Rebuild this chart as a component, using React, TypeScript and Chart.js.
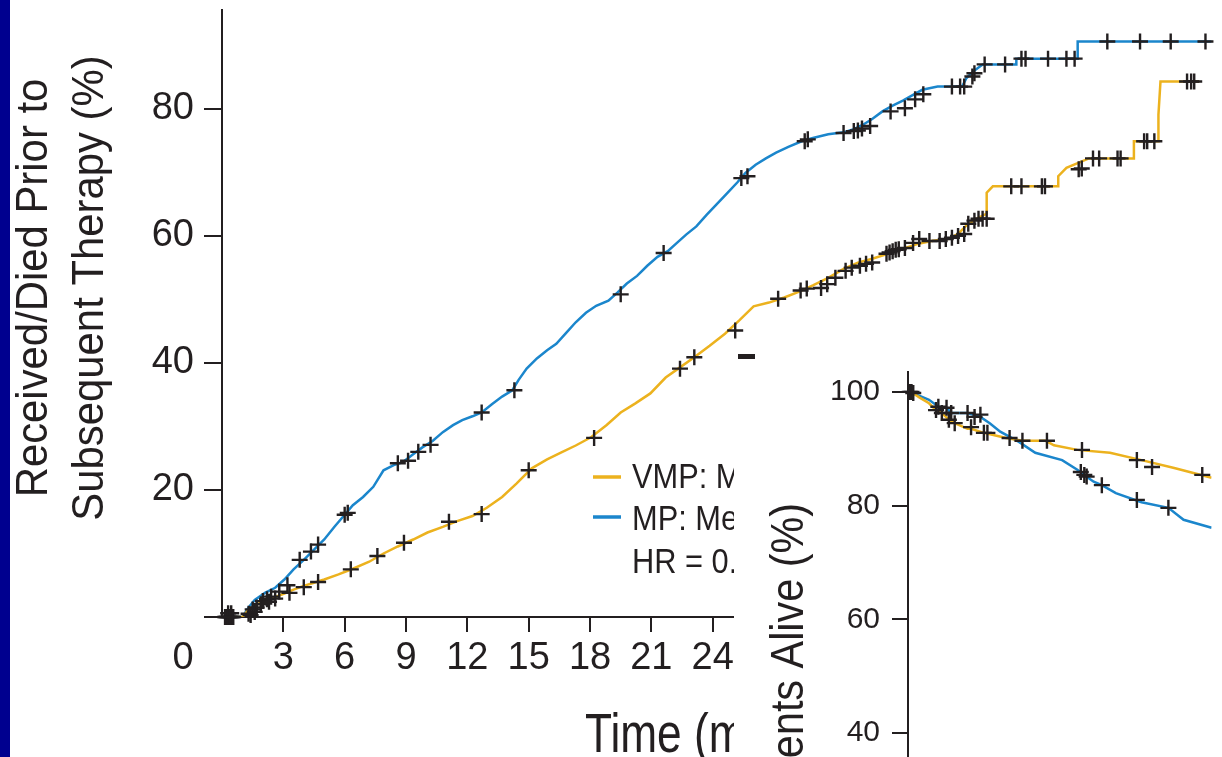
import React, { useEffect, useRef } from "react";
import { Chart, registerables } from "chart.js";

Chart.register(...registerables);

const INK = "#231f20";
const YELLOW = "#ecb21e";
const BLUE = "#1b86cc";
const FONT = '"Liberation Sans", Arial, Helvetica, sans-serif';

// ---------- Main panel: cumulative % (time in months) ----------
const xTickStep = 3;
const yTickStep = 20;

const mpMonths = [0, 1.0, 1.3, 1.6, 2.1, 2.6, 3.05, 3.5, 4.0, 4.5, 5.0, 5.5, 6.0, 6.4, 6.9, 7.4, 7.9, 8.4, 8.85, 9.3, 9.8, 10.3, 10.8, 11.3, 11.75, 12.25, 12.7, 13.2, 13.7, 14.2, 14.5, 14.9, 15.4, 15.9, 16.35, 16.8, 17.3, 17.8, 18.3, 18.9, 19.35, 19.8, 20.3, 20.8, 21.3, 21.8, 22.25, 22.7, 23.2, 23.7, 24.2, 24.7, 25.2, 25.6, 26.1, 26.6, 27.1, 27.7, 28.35, 28.9, 29.65, 30.4, 30.9, 31.35, 31.8, 32.3, 32.8, 33.3, 33.8, 34.25, 35.0, 36.2, 36.4, 36.75, 37.2, 38.85, 38.85, 41.85, 41.85, 48.4];
const mpPct = [0, 0, 1.5, 2.7, 3.8, 4.6, 5.9, 7.5, 9.0, 10.6, 12.2, 14.2, 16.1, 17.6, 18.9, 20.5, 23.1, 23.9, 24.4, 25.5, 26.7, 27.7, 29.1, 30.2, 31.0, 31.6, 32.2, 33.5, 34.7, 35.7, 37.3, 39.1, 40.7, 42.0, 43.0, 44.6, 46.4, 47.9, 49.0, 49.8, 51.1, 52.5, 53.7, 55.3, 56.7, 57.6, 58.9, 60.2, 61.5, 63.3, 65.0, 66.7, 68.4, 69.9, 71.2, 72.2, 73.1, 74.0, 74.9, 75.4, 76.0, 76.3, 76.8, 77.5, 78.4, 79.6, 80.5, 81.3, 82.2, 83.0, 83.5, 83.5, 84.8, 85.9, 87.0, 87.0, 87.9, 87.9, 90.6, 90.6];

const vmpMonths = [0, 1.0, 1.3, 1.6, 2.1, 2.55, 3.05, 3.5, 4.0, 4.5, 5.0, 5.7, 6.4, 7.2, 7.9, 8.6, 9.35, 10.05, 10.8, 11.5, 12.25, 12.95, 13.7, 14.4, 15.15, 15.9, 16.6, 17.3, 18.05, 18.8, 19.5, 20.2, 20.95, 21.7, 22.4, 23.1, 23.85, 24.6, 25.3, 26.0, 26.75, 27.5, 28.2, 28.9, 29.65, 30.4, 31.1, 31.8, 32.6, 33.3, 34.0, 34.7, 35.5, 36.0, 36.4, 36.9, 37.4, 37.4, 37.7, 40.9, 40.9, 41.3, 42.4, 44.6, 44.6, 45.8, 45.8, 45.9, 47.8];
const vmpPct = [0, 0, 1.2, 1.8, 2.6, 3.1, 3.7, 4.3, 4.9, 5.4, 5.9, 6.7, 7.6, 8.7, 10.0, 11.1, 12.2, 13.3, 14.2, 15.1, 15.9, 17.2, 18.9, 21.0, 23.4, 24.8, 25.9, 27.0, 28.3, 30.2, 32.2, 33.6, 35.2, 37.7, 39.3, 40.9, 42.7, 44.6, 46.7, 48.9, 49.5, 50.3, 51.2, 52.2, 53.4, 54.8, 55.8, 56.4, 57.2, 58.0, 58.7, 59.2, 59.5, 60.3, 61.6, 62.7, 63.5, 66.8, 67.8, 67.8, 69.4, 70.7, 72.2, 72.2, 74.9, 74.9, 79.1, 84.3, 84.3];

const mpCensorMonths = [0.15, 0.25, 0.35, 0.45, 0.55, 0.3, 0.45, 1.3, 1.5, 1.7, 2.0, 2.2, 2.4, 2.8, 3.2, 3.8, 4.35, 4.7, 6.0, 6.15, 8.6, 9.1, 9.6, 10.2, 12.7, 14.3, 19.5, 21.6, 25.4, 25.7, 28.5, 28.65, 30.4, 30.9, 31.1, 31.3, 31.7, 32.7, 33.4, 33.9, 34.3, 35.7, 36.1, 36.3, 36.7, 36.8, 37.3, 38.3, 39.1, 39.3, 40.4, 41.3, 41.7, 43.3, 44.9, 46.4, 48.1];
const mpCensorPct = [0, 0, 0, 0, 0, 0.6, 0.6, 0.5, 1.2, 1.5, 2.5, 2.8, 3.2, 4.0, 5.0, 9.0, 10.3, 11.4, 16.1, 16.4, 24.2, 24.6, 26.0, 27.1, 32.2, 35.7, 50.8, 57.3, 69.1, 69.4, 74.9, 75.2, 76.2, 76.5, 76.6, 76.9, 77.3, 79.6, 80.1, 81.5, 82.3, 83.5, 83.5, 83.5, 85.1, 85.6, 87.0, 87.0, 87.9, 87.9, 87.9, 87.9, 87.9, 90.6, 90.6, 90.6, 90.6];

const vmpCensorMonths = [0.2, 0.3, 0.4, 0.5, 1.4, 1.6, 1.9, 2.3, 2.6, 3.3, 4.0, 4.7, 6.3, 7.6, 8.9, 11.1, 12.7, 15.0, 18.2, 22.4, 23.1, 25.1, 27.2, 28.3, 28.6, 29.3, 29.6, 30.0, 30.5, 30.8, 31.2, 31.5, 31.8, 32.5, 32.65, 32.8, 32.95, 33.1, 33.4, 33.8, 34.1, 34.6, 35.1, 35.4, 35.7, 36.0, 36.3, 36.5, 36.8, 37.0, 37.2, 37.4, 38.6, 39.1, 40.1, 40.25, 41.9, 42.05, 42.6, 42.9, 43.8, 43.95, 45.1, 45.25, 45.6, 47.2, 47.4, 47.55];
const vmpCensorPct = [0, 0, 0, 0, 0.3, 0.8, 2.0, 2.4, 2.9, 3.8, 4.7, 5.5, 7.5, 9.6, 11.7, 15.0, 16.2, 23.1, 28.2, 39.1, 40.9, 45.1, 50.1, 51.4, 51.7, 51.8, 52.4, 53.4, 54.5, 55.0, 55.3, 55.6, 55.8, 57.2, 57.4, 57.6, 57.8, 57.9, 58.1, 58.9, 59.5, 59.2, 59.2, 59.5, 59.7, 60.0, 60.3, 61.9, 62.4, 62.7, 62.7, 62.7, 67.8, 67.8, 67.8, 67.8, 70.5, 70.6, 72.2, 72.2, 72.2, 72.2, 74.9, 74.9, 74.9, 84.3, 84.3, 84.3];

const legendLabels = ["VMP: Median, 28.1 months", "MP: Median, 19.2 months", "HR = 0.54; P < .001"];

// ---------- Inset panel: patients alive (%) ----------
const insetYTickStep = 20;
const osVmpMonths = [0, 0.4, 1.0, 1.8, 2.4, 2.9, 3.5, 4.0, 5.1, 5.4, 6.5, 8.4, 9.8, 11.8, 12.5, 14.5, 17.3, 20.0, 22.8, 26.0];
const osVmpPct = [100, 99.8, 99.0, 98.0, 96.8, 96.3, 95.1, 94.5, 93.5, 93.5, 92.8, 91.9, 91.4, 91.4, 90.6, 89.8, 89.3, 88.0, 86.6, 84.9];
const osMpMonths = [0, 1.0, 1.8, 2.6, 3.3, 3.7, 5.1, 6.2, 7.0, 7.9, 9.5, 10.9, 13.2, 14.5, 15.1, 15.9, 16.6, 17.8, 20.0, 22.3, 23.6, 26.0];
const osMpPct = [100, 99.3, 98.6, 97.4, 97.2, 96.3, 96.3, 95.6, 94.5, 93.0, 91.2, 89.3, 88.0, 86.3, 85.4, 84.2, 83.6, 82.2, 80.6, 79.6, 77.5, 76.1];
const osVmpCensorMonths = [0.15, 0.3, 0.45, 2.4, 2.9, 3.5, 4.0, 5.4, 6.5, 6.8, 8.7, 9.8, 11.9, 14.9, 19.6, 20.9, 25.2];
const osVmpCensorPct = [100, 100, 99.8, 96.8, 96.3, 95.1, 94.5, 93.8, 92.8, 92.8, 91.9, 91.4, 91.4, 89.8, 88.0, 86.8, 85.4];
const osMpCensorMonths = [2.6, 3.3, 3.7, 5.1, 5.7, 6.2, 14.8, 15.1, 15.3, 16.6, 19.6, 22.3];
const osMpCensorPct = [97.4, 97.2, 96.3, 96.3, 95.6, 96.0, 85.9, 85.4, 85.1, 83.6, 81.0, 79.6];

function pts(xs: number[], ys: number[]) {
  return xs.map((x, i) => ({ x, y: ys[i] }));
}

type TextOpts = {
  size: number;
  sx?: number;
  rotate?: boolean;
  align?: CanvasTextAlign;
  baseline?: CanvasTextBaseline;
  color?: string;
};

function drawText(ctx: CanvasRenderingContext2D, text: string, x: number, y: number, o: TextOpts) {
  ctx.save();
  ctx.translate(x, y);
  if (o.rotate) ctx.rotate(-Math.PI / 2);
  ctx.scale(o.sx ?? 1, 1);
  ctx.font = `${o.size}px ${FONT}`;
  ctx.fillStyle = o.color ?? INK;
  ctx.textAlign = o.align ?? "left";
  ctx.textBaseline = o.baseline ?? "alphabetic";
  ctx.fillText(text, 0, 0);
  ctx.restore();
}

const mainTextPlugin = {
  id: "mainText",
  afterDraw(chart: any) {
    const ctx: CanvasRenderingContext2D = chart.ctx;
    const xs = chart.scales.x;
    drawText(ctx, "Received/Died Prior to", 47, 288, { size: 45, sx: 0.93, rotate: true, align: "center" });
    drawText(ctx, "Subsequent Therapy (%)", 103, 288, { size: 45, sx: 0.93, rotate: true, align: "center" });
    drawText(ctx, "0", xs.left - 39, 669, { size: 38, align: "center" });
    drawText(ctx, "Time (months)", 585, 752, { size: 56, sx: 0.79 });
    const lx0 = 593, lx1 = 621;
    const rows = [
      { y: 477, base: 488, color: YELLOW },
      { y: 517, base: 530, color: BLUE },
      { y: 0, base: 573, color: "" },
    ];
    rows.forEach((r, i) => {
      if (r.color) {
        ctx.save();
        ctx.strokeStyle = r.color;
        ctx.lineWidth = 3.5;
        ctx.beginPath();
        ctx.moveTo(lx0, r.y);
        ctx.lineTo(lx1, r.y);
        ctx.stroke();
        ctx.restore();
      }
      drawText(ctx, legendLabels[i], 632, r.base, { size: 35, sx: 0.88 });
    });
  },
};

const insetTextPlugin = {
  id: "insetText",
  afterDraw(chart: any) {
    const ctx: CanvasRenderingContext2D = chart.ctx;
    drawText(ctx, "Patients Alive (%)", 69, 143, { size: 47, sx: 0.88, rotate: true, align: "right" });
  },
};

const hideZeroTick = (c: any) => (c.tick && c.tick.value === 0 ? "rgba(0,0,0,0)" : INK);

const noPadV = (w: number) => (s: any) => {
  s.width = w;
  s.paddingTop = 0;
  s.paddingBottom = 0;
};
const noPadH = (h: number) => (s: any) => {
  s.height = h;
  s.paddingLeft = 0;
  s.paddingRight = 0;
};

function lineSet(label: string, data: any[], color: string) {
  return {
    label,
    data,
    borderColor: color,
    borderWidth: 2.5,
    pointRadius: 0,
    fill: false,
    tension: 0,
    order: 2,
  };
}

function censorSet(label: string, data: any[]) {
  return {
    label,
    data,
    showLine: false,
    pointStyle: "cross",
    pointRadius: 8,
    pointBorderWidth: 2.4,
    pointBorderColor: INK,
    pointBackgroundColor: INK,
    borderColor: INK,
    clip: false,
    order: 1,
  };
}

export default function App() {
  const mainRef = useRef<HTMLCanvasElement>(null);
  const insetRef = useRef<HTMLCanvasElement>(null);

  useEffect(() => {
    const main = new Chart(mainRef.current as HTMLCanvasElement, {
      type: "line",
      data: {
        datasets: [
          censorSet("VMP censored", pts(vmpCensorMonths, vmpCensorPct)),
          censorSet("MP censored", pts(mpCensorMonths, mpCensorPct)),
          lineSet("VMP", pts(vmpMonths, vmpPct), YELLOW),
          lineSet("MP", pts(mpMonths, mpPct), BLUE),
        ] as any,
      },
      options: {
        animation: false,
        responsive: false,
        layout: { padding: { top: 9, left: 0, right: 0, bottom: 0 } },
        plugins: { legend: { display: false }, tooltip: { enabled: false } },
        scales: {
          x: {
            type: "linear",
            min: 0,
            max: 48.4,
            afterFit: noPadH(140),
            ticks: {
              stepSize: xTickStep,
              includeBounds: false,
              autoSkip: false,
              maxRotation: 0,
              padding: 4,
              color: INK,
              font: { family: FONT, size: 38 },
              callback: (v: any) => (v === 0 || v > 24 ? "" : String(v)),
            },
            grid: { drawOnChartArea: false, drawTicks: true, tickLength: 15, lineWidth: 2, color: hideZeroTick },
            border: { display: true, color: INK, width: 2 },
          },
          y: {
            type: "linear",
            min: 0,
            max: 95.5,
            afterFit: noPadV(222),
            ticks: {
              stepSize: yTickStep,
              includeBounds: false,
              padding: 10,
              color: INK,
              font: { family: FONT, size: 38 },
              callback: (v: any) => (v === 0 ? "" : String(v)),
            },
            grid: { drawOnChartArea: false, drawTicks: true, tickLength: 18, lineWidth: 2, color: INK },
            border: { display: true, color: INK, width: 2 },
          },
        },
      } as any,
      plugins: [mainTextPlugin],
    });

    const inset = new Chart(insetRef.current as HTMLCanvasElement, {
      type: "line",
      data: {
        datasets: [
          censorSet("VMP censored", pts(osVmpCensorMonths, osVmpCensorPct)),
          censorSet("MP censored", pts(osMpCensorMonths, osMpCensorPct)),
          lineSet("VMP", pts(osVmpMonths, osVmpPct), YELLOW),
          lineSet("MP", pts(osMpMonths, osMpPct), BLUE),
        ] as any,
      },
      options: {
        animation: false,
        responsive: false,
        layout: { padding: { top: 12, left: 0, right: 0, bottom: 0 } },
        plugins: { legend: { display: false }, tooltip: { enabled: false } },
        scales: {
          x: {
            type: "linear",
            min: 0,
            max: 26,
            afterFit: noPadH(99.6),
            ticks: { stepSize: 6, includeBounds: false, color: INK, font: { family: FONT, size: 30 } },
            grid: { drawOnChartArea: false, drawTicks: true, tickLength: 15, lineWidth: 2, color: hideZeroTick },
            border: { display: true, color: INK, width: 2 },
          },
          y: {
            type: "linear",
            min: 0,
            max: 103.5,
            afterFit: noPadV(174),
            ticks: {
              stepSize: insetYTickStep,
              includeBounds: false,
              padding: 12,
              color: INK,
              font: { family: FONT, size: 30 },
            },
            grid: { drawOnChartArea: false, drawTicks: true, tickLength: 16, lineWidth: 2, color: INK },
            border: { display: true, color: INK, width: 2 },
          },
        },
      } as any,
      plugins: [insetTextPlugin],
    });

    return () => {
      main.destroy();
      inset.destroy();
    };
  }, []);

  return (
    <div
      style={{
        position: "fixed",
        left: 0,
        top: 0,
        width: 1222,
        height: 757,
        overflow: "hidden",
        background: "#ffffff",
      }}
    >
      <canvas ref={mainRef} width={1222} height={757} style={{ position: "absolute", left: 0, top: 0 }} />
      <canvas
        ref={insetRef}
        width={488}
        height={700}
        style={{ position: "absolute", left: 734, top: 360, background: "#ffffff" }}
      />
      <div style={{ position: "absolute", left: 738, top: 354, width: 17, height: 5, background: INK }} />
      <div style={{ position: "absolute", left: 0, top: 0, width: 10, height: 757, background: "#00008f" }} />
    </div>
  );
}
